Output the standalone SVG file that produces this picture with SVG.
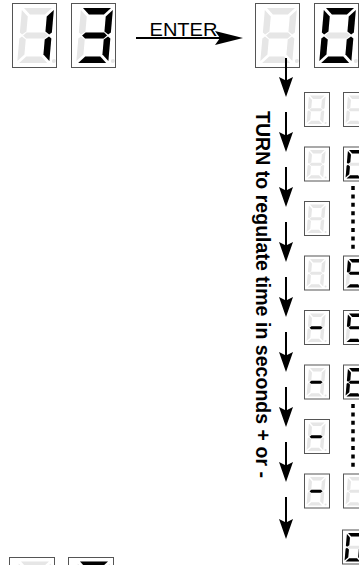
<svg xmlns="http://www.w3.org/2000/svg" width="359" height="565" viewBox="0 0 359 565">
<style>
.box{fill:#fff;stroke:#555;stroke-width:1}
.off{fill:#e6e6e6}
.on{fill:#000}
.arr{stroke:#000;stroke-width:2;fill:none}
.dots{stroke:#000;stroke-width:3.5;stroke-dasharray:4 4.4;fill:none}
.lbl{font-family:"Liberation Sans",Arial,sans-serif;fill:#000}
</style>
<defs>
<polygon id="sa" points="2,0 30,0 23.5,6.5 8.5,6.5"/>
<polygon id="sb" points="32,2 32,24.5 29.5,26.5 25.5,23.5 25.5,8.5"/>
<polygon id="sc" points="32,30.5 32,53 25.5,46.5 25.5,31.5 29.5,28.5"/>
<polygon id="sd" points="2,55 8.5,48.5 23.5,48.5 30,55"/>
<polygon id="se" points="0,30.5 2.5,28.5 6.5,31.5 6.5,46.5 0,53"/>
<polygon id="sf" points="0,2 6.5,8.5 6.5,23.5 2.5,26.5 0,24.5"/>
<polygon id="sg" points="3.5,27.5 6.75,24.5 25.25,24.5 28.5,27.5 25.25,30.5 6.75,30.5"/>
<circle id="dp" cx="36.5" cy="53" r="2"/>
<g id="ghost">
<use href="#sa"/><use href="#sb"/><use href="#sc"/><use href="#sd"/><use href="#se"/><use href="#sf"/><use href="#sg"/><use href="#dp"/>
</g>
<marker id="ah" markerUnits="userSpaceOnUse" viewBox="-17 -8 22 16" markerWidth="22" markerHeight="16" refX="0" refY="0" orient="auto" overflow="visible">
<path d="M4,0 L-16,-7 L-12.5,0 L-16,7 Z" fill="#000"/>
</marker>
<marker id="ahw" markerUnits="userSpaceOnUse" viewBox="-24 -8 30 16" markerWidth="30" markerHeight="16" refX="0" refY="0" orient="auto" overflow="visible">
<path d="M5,0 L-23,-7 L-18,0 L-23,7 Z" fill="#000"/>
</marker>
</defs>

<!-- top row -->
<g id="disp-1">
<rect class="box" x="12.5" y="3.5" width="44" height="64"/>
<g transform="translate(22,8) skewX(-5)"><use href="#ghost" class="off"/><use href="#sb" class="on"/><use href="#sc" class="on"/></g>
</g>
<g id="disp-3">
<rect class="box" x="71.5" y="3.5" width="44" height="64"/>
<g transform="translate(81,8) skewX(-5)"><use href="#ghost" class="off"/><use href="#sa" class="on"/><use href="#sb" class="on"/><use href="#sg" class="on"/><use href="#sc" class="on"/><use href="#sd" class="on"/></g>
</g>
<g id="label-enter">
<text class="lbl" x="149.5" y="36" font-size="19" textLength="68" lengthAdjust="spacingAndGlyphs">ENTER</text>
</g>
<g id="disp-blank">
<rect class="box" x="255.5" y="3.5" width="44" height="64"/>
<g transform="translate(265,8) skewX(-5)"><use href="#ghost" class="off"/></g>
</g>
<g id="disp-0">
<rect class="box" x="314.5" y="3.5" width="44" height="64"/>
<g transform="translate(324,8) skewX(-5)"><use href="#ghost" class="off"/><use href="#sa" class="on"/><use href="#sb" class="on"/><use href="#sc" class="on"/><use href="#sd" class="on"/><use href="#se" class="on"/><use href="#sf" class="on"/></g>
</g>

<!-- label -->
<g id="label-turn">
<text class="lbl" font-weight="bold" font-size="19.5" textLength="367" lengthAdjust="spacing" transform="translate(256,111) rotate(90)" x="0" y="0">TURN to regulate time in seconds + or -</text>
</g>

<!-- column rows -->
<g id="row1">
<rect class="box" x="304.5" y="92.5" width="25" height="34"/>
<g transform="translate(309,95.5) scale(0.52) skewX(-5)"><use href="#ghost" class="off"/></g>
<rect class="box" x="343.5" y="92.5" width="25" height="34"/>
<g transform="translate(348,95.5) scale(0.52) skewX(-5)"><use href="#ghost" class="off"/></g>
</g>
<g id="row2">
<rect class="box" x="304.5" y="147" width="25" height="34"/>
<g transform="translate(309,150) scale(0.52) skewX(-5)"><use href="#ghost" class="off"/></g>
<rect class="box" x="343.5" y="147" width="25" height="34"/>
<g transform="translate(348,150) scale(0.52) skewX(-5)"><use href="#ghost" class="off"/><use href="#sa" class="on"/><use href="#sb" class="on"/><use href="#sc" class="on"/><use href="#sd" class="on"/><use href="#se" class="on"/><use href="#sf" class="on"/></g>
</g>
<g id="row3">
<rect class="box" x="304.5" y="201.5" width="25" height="34"/>
<g transform="translate(309,204.5) scale(0.52) skewX(-5)"><use href="#ghost" class="off"/></g>
</g>
<g id="row4">
<rect class="box" x="304.5" y="256" width="25" height="34"/>
<g transform="translate(309,259) scale(0.52) skewX(-5)"><use href="#ghost" class="off"/></g>
<rect class="box" x="343.5" y="256" width="25" height="34"/>
<g transform="translate(348,259) scale(0.52) skewX(-5)"><use href="#ghost" class="off"/><use href="#sa" class="on"/><use href="#sf" class="on"/><use href="#sg" class="on"/><use href="#sc" class="on"/><use href="#sd" class="on"/></g>
</g>
<g id="row5">
<rect class="box" x="304.5" y="310.5" width="25" height="34"/>
<g transform="translate(309,313.5) scale(0.52) skewX(-5)"><use href="#ghost" class="off"/><use href="#sg" class="on"/></g>
<rect class="box" x="343.5" y="310.5" width="25" height="34"/>
<g transform="translate(348,313.5) scale(0.52) skewX(-5)"><use href="#ghost" class="off"/><use href="#sa" class="on"/><use href="#sf" class="on"/><use href="#sg" class="on"/><use href="#sc" class="on"/><use href="#sd" class="on"/></g>
</g>
<g id="row6">
<rect class="box" x="304.5" y="365" width="25" height="34"/>
<g transform="translate(309,368) scale(0.52) skewX(-5)"><use href="#ghost" class="off"/><use href="#sg" class="on"/></g>
<rect class="box" x="343.5" y="365" width="25" height="34"/>
<g transform="translate(348,368) scale(0.52) skewX(-5)"><use href="#ghost" class="off"/><use href="#sa" class="on"/><use href="#sb" class="on"/><use href="#sc" class="on"/><use href="#sd" class="on"/><use href="#se" class="on"/><use href="#sf" class="on"/><use href="#sg" class="on"/></g>
</g>
<g id="row7">
<rect class="box" x="304.5" y="419.5" width="25" height="34"/>
<g transform="translate(309,422.5) scale(0.52) skewX(-5)"><use href="#ghost" class="off"/><use href="#sg" class="on"/></g>
</g>
<g id="row8">
<rect class="box" x="304.5" y="474" width="25" height="34"/>
<g transform="translate(309,477) scale(0.52) skewX(-5)"><use href="#ghost" class="off"/><use href="#sg" class="on"/></g>
<rect class="box" x="343.5" y="474" width="25" height="34"/>
<g transform="translate(348,477) scale(0.52) skewX(-5)"><use href="#ghost" class="off"/></g>
</g>
<g id="row9">
<rect class="box" x="342.5" y="530" width="25" height="34"/>
<g transform="translate(347,533) scale(0.52) skewX(-5)"><use href="#ghost" class="off"/><use href="#sa" class="on"/><use href="#sb" class="on"/><use href="#sc" class="on"/><use href="#sd" class="on"/><use href="#se" class="on"/><use href="#sf" class="on"/></g>
</g>

<!-- bottom-left pair -->
<g id="disp-bl-1">
<rect class="box" x="9.5" y="557.5" width="45" height="64"/>
<g transform="translate(19,561.5) skewX(-5)"><use href="#ghost" class="off"/></g>
</g>
<g id="disp-bl-2">
<rect class="box" x="68.5" y="557.5" width="45" height="64"/>
<g transform="translate(78,561.5) skewX(-5)"><use href="#ghost" class="off"/><use href="#sa" class="on"/></g>
</g>

<!-- ellipsis dots -->
<g id="ellipsis">
<line class="dots" x1="353" y1="186" x2="353" y2="249"/>
<line class="dots" x1="353" y1="404" x2="353" y2="467"/>
</g>

<!-- connectors -->
<g id="connectors">
<line class="arr" x1="136" y1="38" x2="238" y2="38" marker-end="url(#ahw)"/>
<line class="arr" x1="286" y1="58" x2="286" y2="93" marker-end="url(#ah)"/>
<line class="arr" x1="286" y1="112" x2="286" y2="148" marker-end="url(#ah)"/>
<line class="arr" x1="286" y1="167" x2="286" y2="203" marker-end="url(#ah)"/>
<line class="arr" x1="286" y1="222" x2="286" y2="258" marker-end="url(#ah)"/>
<line class="arr" x1="286" y1="277" x2="286" y2="313" marker-end="url(#ah)"/>
<line class="arr" x1="286" y1="332" x2="286" y2="368" marker-end="url(#ah)"/>
<line class="arr" x1="286" y1="387" x2="286" y2="423" marker-end="url(#ah)"/>
<line class="arr" x1="286" y1="442" x2="286" y2="478" marker-end="url(#ah)"/>
<line class="arr" x1="286" y1="497" x2="286" y2="535" marker-end="url(#ah)"/>
</g>
</svg>
